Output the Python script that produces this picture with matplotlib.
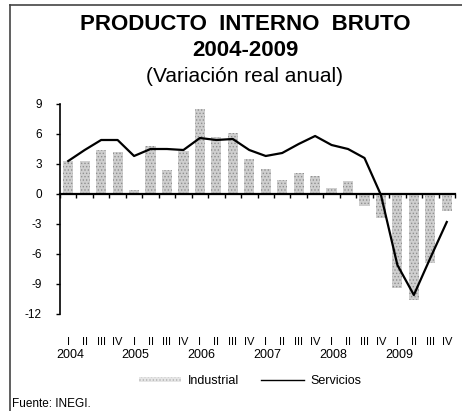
import matplotlib
matplotlib.use("Agg")
import matplotlib.pyplot as plt
import numpy as np
from matplotlib.lines import Line2D
from matplotlib.patches import Patch

plt.rcParams['font.family'] = ['Liberation Sans', 'DejaVu Sans']
plt.rcParams['hatch.linewidth'] = 0.6

quarters = ["I", "II", "III", "IV"] * 6
years = ["2004", "2005", "2006", "2007", "2008", "2009"]
industrial = [3.3, 3.3, 4.4, 4.2, 0.4, 4.8, 2.4, 4.3, 8.5, 5.7, 6.1, 3.5,
              2.5, 1.4, 2.1, 1.8, 0.6, 1.3, -1.2, -2.4, -9.4, -10.6, -6.9, -1.7]
servicios = [3.3, 4.4, 5.4, 5.4, 3.8, 4.5, 4.5, 4.4, 5.6, 5.4, 5.5, 4.4,
             3.8, 4.1, 5.0, 5.8, 4.9, 4.5, 3.6, -0.1, -7.1, -10.1, -6.4, -2.8]
yticks = [9, 6, 3, 0, -3, -6, -9, -12]

W, H = 462, 411
fig = plt.figure(figsize=(W / 100, H / 100), dpi=100)
ax = fig.add_axes([60 / W, 1 - 314 / H, 395 / W, 210 / H])

x = np.arange(len(industrial))
ax.bar(x, industrial, width=0.62, facecolor='#cfcfcf', edgecolor='#8f8f8f',
       hatch='.....', linewidth=0, zorder=1)
ax.plot(x, servicios, color='black', linewidth=1.6, zorder=3)

ax.set_xlim(-0.5, len(x) - 0.5)
ax.set_ylim(-12, 9)
ax.set_yticks(yticks)
ax.set_yticklabels([str(v) for v in yticks])
ax.tick_params(axis='y', direction='out', length=3, width=1, pad=10, labelsize=8.5)
ax.set_xticks(np.arange(-0.5, len(x)))
ax.set_xticklabels([])
ax.tick_params(axis='x', direction='out', length=3, width=1)
for s in ['top', 'right']:
    ax.spines[s].set_visible(False)
ax.spines['bottom'].set_position(('data', 0))
ax.spines['bottom'].set_linewidth(1.6)
ax.spines['left'].set_linewidth(1.2)
ax.spines['bottom'].set_zorder(4)

tr = ax.get_xaxis_transform()
for i, q in enumerate(quarters):
    ax.text(i, -0.133, q, transform=tr, ha='center', va='center', fontsize=8)
for k, yname in enumerate(years):
    ax.text(4 * k + 0.1, -0.195, yname, transform=tr, ha='center', va='center', fontsize=9)

handles = [Patch(facecolor='#e6e6e6', edgecolor='#b0b0b0', hatch='.....', linewidth=0),
           Line2D([0], [0], color='black', linewidth=1.0)]
leg = fig.legend(handles, ["Industrial", "Servicios"], loc='center',
                 bbox_to_anchor=(250 / W, 1 - 381 / H), ncol=2, frameon=False,
                 fontsize=9, handlelength=3.4, handleheight=0.25, columnspacing=1.8,
                 handletextpad=0.5)

fig.text(245 / W, 1 - 25 / H, "PRODUCTO  INTERNO  BRUTO", ha='center', va='center',
         fontsize=16, fontweight='bold')
fig.text(245 / W, 1 - 50 / H, "2004-2009", ha='center', va='center',
         fontsize=16, fontweight='bold')
fig.text(245 / W, 1 - 77 / H, "(Variación real anual)", ha='center', va='center',
         fontsize=15)
fig.text(12 / W, 1 - 404 / H, "Fuente: INEGI.", ha='left', va='center', fontsize=8.5)

fig.add_artist(Line2D([10 / W, 10 / W], [0, 1 - 5 / H], transform=fig.transFigure,
                      color='#444444', linewidth=1.2))
fig.add_artist(Line2D([10 / W, 1], [1 - 5 / H, 1 - 5 / H], transform=fig.transFigure,
                      color='#444444', linewidth=1.2))

fig.savefig("out.png", dpi=100)
